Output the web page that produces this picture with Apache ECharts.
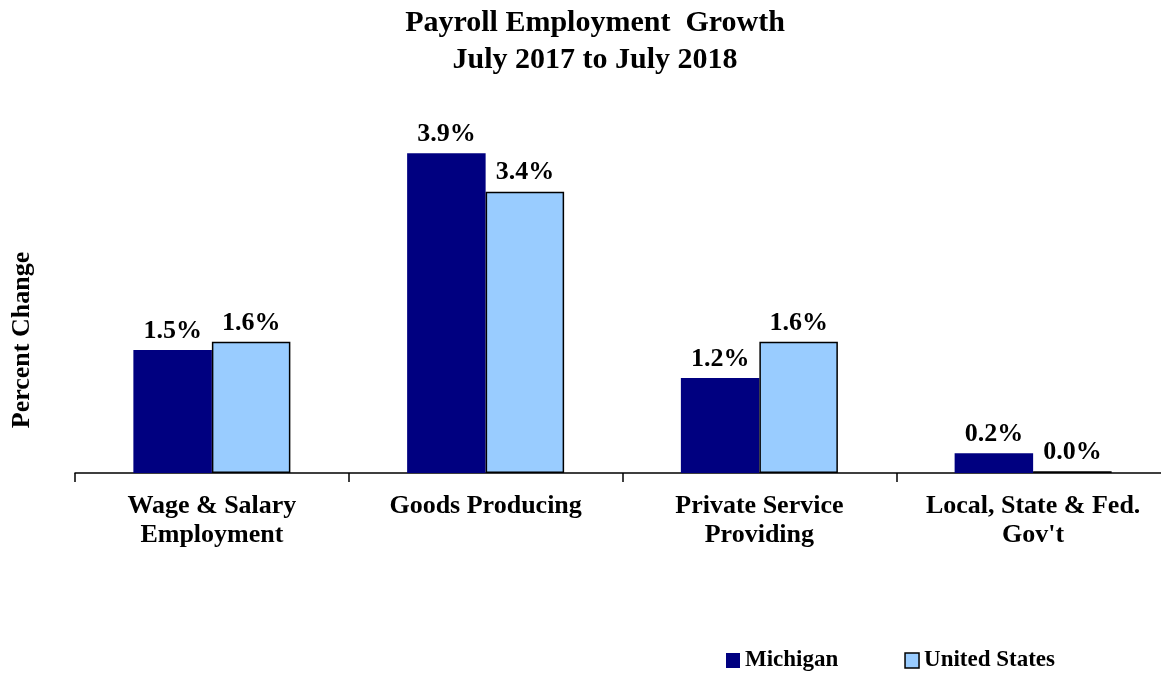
<!DOCTYPE html>
<html lang="en" style="height: 100%">
<head>
    <meta charset="UTF-8">
    <title>Payroll Employment Growth</title>
    <script type="text/javascript" src="https://cdn.jsdelivr.net/npm/echarts@6/dist/echarts.min.js"></script>
</head>
<body style="height: 100%;margin: 0;background:#fff;overflow:hidden">

<div id="contar1" style="width:1170px;height:673px"></div>

<script type="text/javascript">
    var categories = ['Wage & Salary\nEmployment', 'Goods Producing', 'Private Service\nProviding', 'Local, State & Fed.\nGov\'t'];
    var michigan = [1.5, 3.9, 1.16, 0.24];
    var unitedStates = [1.6, 3.43, 1.6, 0.02];

    var serif = '"Liberation Serif", "Times New Roman", serif';

    var chart = echarts.init(document.getElementById('contar1'));

    var labelOpt = {
        show: true,
        position: 'top',
        distance: 6,
        fontFamily: serif,
        fontWeight: 'bold',
        fontSize: 26,
        color: '#000',
        formatter: function (p) {
            return p.value.toFixed(1) + '%';
        }
    };

    var option = {
        backgroundColor: '#fff',
        animation: false,
        title: {
            text: 'Payroll Employment  Growth\nJuly 2017 to July 2018',
            left: 590,
            textAlign: 'center',
            top: 0,
            textStyle: {
                fontFamily: serif,
                fontWeight: 'bold',
                fontSize: 30,
                lineHeight: 37,
                color: '#000'
            }
        },
        legend: {
            left: 721,
            top: 644,
            icon: 'rect',
            itemWidth: 14,
            itemHeight: 15,
            itemGap: 66,
            textStyle: {
                fontFamily: serif,
                fontWeight: 'bold',
                fontSize: 23,
                color: '#000'
            },
            data: [
                {name: 'Michigan'},
                {name: 'United States', itemStyle: {borderColor: '#000', borderWidth: 1.5}}
            ]
        },
        grid: {
            left: 75,
            right: 0,
            top: 145,
            bottom: 200
        },
        xAxis: {
            type: 'category',
            data: categories,
            axisLine: {lineStyle: {color: '#000', width: 1.5}},
            axisTick: {show: true, interval: 0, length: 9, lineStyle: {color: '#000', width: 1.5}},
            axisLabel: {
                interval: 0,
                hideOverlap: false,
                margin: 19,
                fontFamily: serif,
                fontWeight: 'bold',
                fontSize: 26,
                lineHeight: 29,
                color: '#000'
            }
        },
        yAxis: {
            type: 'value',
            min: 0,
            max: 4,
            show: false
        },
        graphic: [{
            type: 'text',
            x: 22,
            y: 340,
            rotation: Math.PI / 2,
            style: {
                text: 'Percent Change',
                fontFamily: serif,
                fontWeight: 'bold',
                fontSize: 26,
                fill: '#000',
                align: 'center',
                verticalAlign: 'middle'
            }
        }],
        series: [
            {
                name: 'Michigan',
                type: 'bar',
                barWidth: 78.5,
                barGap: '0%',
                itemStyle: {color: '#000080'},
                label: labelOpt,
                data: michigan
            },
            {
                name: 'United States',
                type: 'bar',
                barWidth: 78.5,
                barGap: '0%',
                itemStyle: {color: '#99ccff', borderColor: '#000', borderWidth: 1.5},
                label: labelOpt,
                data: unitedStates
            }
        ]
    };

    chart.setOption(option);
</script>

</body>
</html>
